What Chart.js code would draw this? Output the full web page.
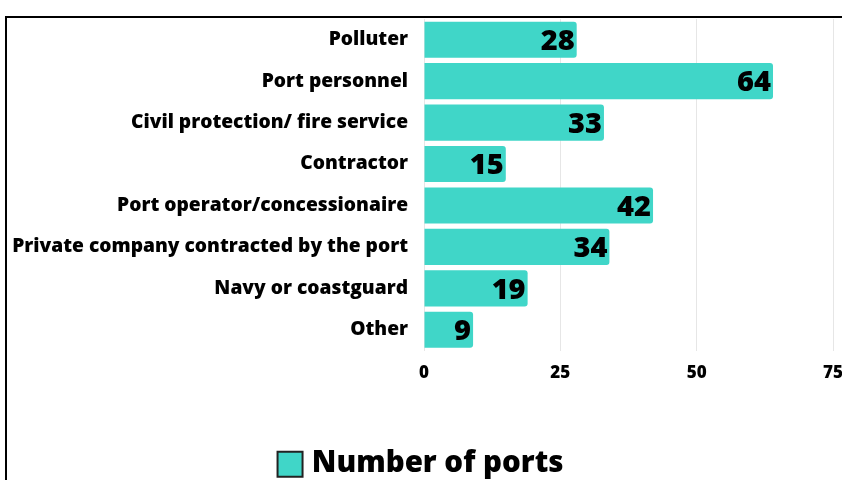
<!DOCTYPE html>
<html>
<head>
<meta charset="utf-8">
<script src="https://cdn.jsdelivr.net/npm/chart.js@4.4.0/dist/chart.umd.min.js"></script>
<style>
    html, body { margin: 0; padding: 0; background: #fff; overflow: hidden; }
    #frame {
        position: absolute;
        left: 5px;
        top: 16px;
        width: 880px;
        height: 500px;
        border-top: 2px solid #000;
        border-left: 2px solid #000;
        background: #fff;
    }
    #box { position: absolute; left: 0; top: 0; width: 860px; height: 470px; }
</style>
</head>
<body>
<div id="frame">
    <div id="box"><canvas id="myChart"></canvas></div>
</div>
<script>
const categories = [
    "Polluter",
    "Port personnel",
    "Civil protection/ fire service",
    "Contractor",
    "Port operator/concessionaire",
    "Private company contracted by the port",
    "Navy or coastguard",
    "Other"
];
const portCounts = [28, 64, 33, 15, 42, 34, 19, 9];
const xTicks = [0, 25, 50, 75];
const seriesName = "Number of ports";

const barColor = '#40d6c8';

// draw the value at the end of each bar
const valueLabels = {
    id: 'valueLabels',
    afterDatasetsDraw(chart) {
        const ctx = chart.ctx;
        const meta = chart.getDatasetMeta(0);
        ctx.save();
        ctx.font = '800 29px "Open Sans"';
        ctx.fillStyle = '#000';
        ctx.textAlign = 'right';
        ctx.textBaseline = 'middle';
        meta.data.forEach((bar, i) => {
            ctx.fillText(String(portCounts[i]), bar.x - 2, bar.y + 2);
        });
        ctx.restore();
    }
};

// legend square drawn a bit bigger and closer to the text
const legendSquare = {
    id: 'legendSquare',
    afterDraw(chart) {
        const hb = chart.legend && chart.legend.legendHitBoxes && chart.legend.legendHitBoxes[0];
        if (!hb) return;
        const ctx = chart.ctx;
        const size = 25;
        const y = hb.top + hb.height / 2 - size / 2 + 1;
        ctx.save();
        ctx.fillStyle = barColor;
        ctx.strokeStyle = '#222';
        ctx.lineWidth = 2;
        ctx.fillRect(hb.left + 1, y, size, size);
        ctx.strokeRect(hb.left + 1, y, size, size);
        ctx.restore();
    }
};

const ctx = document.getElementById('myChart').getContext('2d');
const myChart = new Chart(ctx, {
    type: 'bar',
    data: {
        labels: categories,
        datasets: [{
            label: seriesName,
            data: portCounts,
            backgroundColor: barColor,
            borderColor: barColor,
            borderWidth: 0,
            borderRadius: 3,
            borderSkipped: 'start',
            barPercentage: 0.9,
            categoryPercentage: 0.97
        }]
    },
    options: {
        indexAxis: 'y',
        responsive: true,
        maintainAspectRatio: false,
        animation: false,
        layout: { padding: { top: 1, right: 34, left: 0, bottom: 0 } },
        scales: {
            x: {
                min: 0,
                max: 75,
                afterBuildTicks(scale) {
                    scale.ticks = xTicks.map(v => ({ value: v }));
                },
                afterFit(scale) { scale.height = 88; },
                grid: { color: '#e6e6e6', drawTicks: false, lineWidth: 1 },
                border: { display: false },
                ticks: {
                    color: '#000',
                    padding: 12,
                    font: { family: 'Open Sans', weight: 800, size: 17 }
                }
            },
            y: {
                afterFit(scale) {
                    scale.width = 417;
                    scale.paddingTop = 0;
                    scale.paddingBottom = 0;
                },
                grid: { display: false, drawTicks: false },
                border: { display: false },
                ticks: {
                    color: '#000',
                    padding: 16,
                    font: { family: 'Open Sans', weight: 800, size: 19.2 }
                }
            }
        },
        plugins: {
            legend: {
                position: 'bottom',
                labels: {
                    color: '#000',
                    boxWidth: 20.5,
                    boxHeight: 25,
                    padding: 10,
                    font: { family: 'Open Sans', weight: 800, size: 29.5 },
                    generateLabels() {
                        return [{
                            text: seriesName,
                            fillStyle: 'rgba(0,0,0,0)',
                            strokeStyle: 'rgba(0,0,0,0)',
                            lineWidth: 0,
                            fontColor: '#000',
                            datasetIndex: 0
                        }];
                    }
                }
            },
            tooltip: { enabled: false }
        }
    },
    plugins: [valueLabels, legendSquare]
});
</script>
</body>
</html>
